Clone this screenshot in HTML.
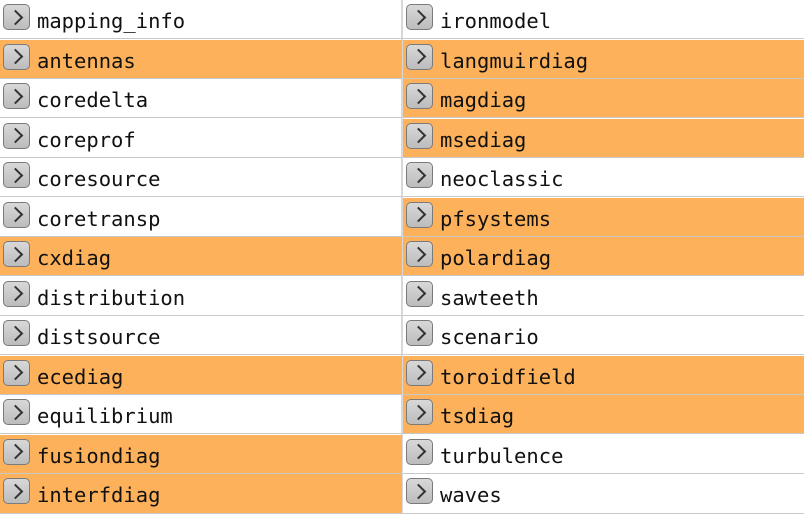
<!DOCTYPE html>
<html><head><style>
body{margin:0;width:804px;height:514px;background:#fff;position:relative;overflow:hidden;font-family:"DejaVu Sans Mono","Liberation Mono",monospace;}
.r{position:absolute;height:39px;border-bottom:1px solid #c8c8c8;box-sizing:border-box;}
.l{left:0;width:402px;}
.rt{left:403px;width:401px;}
.o{background:#fdb15a;}
.i{position:absolute;left:3px;top:4px;width:27px;height:26px;box-sizing:border-box;border:1.5px solid #7a7a7a;border-radius:5px;background:linear-gradient(#d8d8d8,#bcbcbc);}
.i:after{content:"";position:absolute;left:6px;top:6.5px;width:9px;height:9px;border-right:2px solid #333;border-top:2px solid #333;transform:rotate(45deg);}
.t{position:absolute;left:37px;top:2px;line-height:38px;font-size:20.5px;color:#111;}
.v{position:absolute;left:401px;top:0;width:2px;height:514px;background:#d8d8d8;}
</style></head><body>
<div class="v"></div>
<div class="r l" style="top:0px"><div class="i"></div><div class="t">mapping_info</div></div>
<div class="r l o" style="top:39.5px"><div class="i"></div><div class="t">antennas</div></div>
<div class="r l" style="top:79px"><div class="i"></div><div class="t">coredelta</div></div>
<div class="r l" style="top:118.5px"><div class="i"></div><div class="t">coreprof</div></div>
<div class="r l" style="top:158px"><div class="i"></div><div class="t">coresource</div></div>
<div class="r l" style="top:197.5px"><div class="i"></div><div class="t">coretransp</div></div>
<div class="r l o" style="top:237px"><div class="i"></div><div class="t">cxdiag</div></div>
<div class="r l" style="top:276.5px"><div class="i"></div><div class="t">distribution</div></div>
<div class="r l" style="top:316px"><div class="i"></div><div class="t">distsource</div></div>
<div class="r l o" style="top:355.5px"><div class="i"></div><div class="t">ecediag</div></div>
<div class="r l" style="top:395px"><div class="i"></div><div class="t">equilibrium</div></div>
<div class="r l o" style="top:434.5px"><div class="i"></div><div class="t">fusiondiag</div></div>
<div class="r l o" style="top:474px;height:40px"><div class="i"></div><div class="t">interfdiag</div></div>

<div class="r rt" style="top:0px"><div class="i"></div><div class="t">ironmodel</div></div>
<div class="r rt o" style="top:39.5px"><div class="i"></div><div class="t">langmuirdiag</div></div>
<div class="r rt o" style="top:79px"><div class="i"></div><div class="t">magdiag</div></div>
<div class="r rt o" style="top:118.5px"><div class="i"></div><div class="t">msediag</div></div>
<div class="r rt" style="top:158px"><div class="i"></div><div class="t">neoclassic</div></div>
<div class="r rt o" style="top:197.5px"><div class="i"></div><div class="t">pfsystems</div></div>
<div class="r rt o" style="top:237px"><div class="i"></div><div class="t">polardiag</div></div>
<div class="r rt" style="top:276.5px"><div class="i"></div><div class="t">sawteeth</div></div>
<div class="r rt" style="top:316px"><div class="i"></div><div class="t">scenario</div></div>
<div class="r rt o" style="top:355.5px"><div class="i"></div><div class="t">toroidfield</div></div>
<div class="r rt o" style="top:395px"><div class="i"></div><div class="t">tsdiag</div></div>
<div class="r rt" style="top:434.5px"><div class="i"></div><div class="t">turbulence</div></div>
<div class="r rt" style="top:474px;height:40px"><div class="i"></div><div class="t">waves</div></div>
</body></html>
